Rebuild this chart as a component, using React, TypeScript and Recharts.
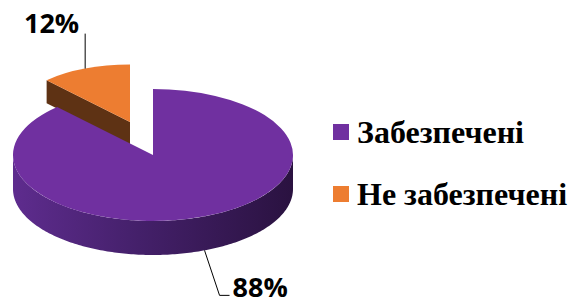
import { Legend, Pie, PieChart } from 'recharts';

const categories = ['Забезпечені', 'Не забезпечені'];
const shares = [88, 12];
const colors = ['#7030a0', '#ed7d31'];

const RAD = Math.PI / 180;
const TILT = 66 / 140;

// per-slice look of the pseudo 3D pie
const sliceStyle: Record<string, any> = {
  'Забезпечені': {
    dx: 0, dy: 0, scale: 1, depth: 34,
    wall: '#3c1a5c', rim: ['#5e2c8e', '#44206a', '#2a1240'],
    label: { line: [[15, 45], [25, 45]], text: [28, 47], anchor: 'start' },
  },
  'Не забезпечені': {
    dx: -23, dy: -33, scale: 0.87, depth: 23,
    wall: '#5e3214', rim: ['#8a4a1e', '#6a3616', '#4a240c'],
    label: { line: [[0, -35]], text: [-6, -36], anchor: 'end' },
  },
};

// draw order: small slice first so the big one sits on top of it
const data = categories
  .map((name, i) => ({ name, value: shares[i], fill: colors[i] }))
  .reverse();

const total = shares.reduce((s, v) => s + v, 0);
const startAngle = 90 + (360 * shares[1]) / total;

function Slice3D(props: any) {
  const { cx, cy, outerRadius, startAngle: a0, endAngle: a1, fill, index } = props;
  const name = props.name ?? props.payload?.name;
  const st = sliceStyle[name];
  const rx = outerRadius * st.scale;
  const ry = rx * TILT;
  const ox = cx + st.dx;
  const oy = cy + st.dy;
  const pt = (a: number, down = 0) => [ox + rx * Math.cos(a * RAD), oy - ry * Math.sin(a * RAD) + down];
  const hi = Math.max(a0, a1);
  const lo = Math.min(a0, a1);

  const s = pt(a0);
  const e = pt(a1);
  const large = hi - lo > 180 ? 1 : 0;
  const top = `M${ox},${oy} L${s[0]},${s[1]} A${rx},${ry} 0 ${large} 1 ${e[0]},${e[1]} Z`;

  // outer rim where it faces the viewer
  const rims: string[] = [];
  for (let k = -2; k <= 1; k++) {
    const r0 = Math.max(lo, -180 + 360 * k);
    const r1 = Math.min(hi, 360 * k);
    if (r1 - r0 <= 0.01) continue;
    const upper: number[][] = [];
    const lower: number[][] = [];
    const steps = Math.max(2, Math.ceil(r1 - r0));
    for (let j = 0; j <= steps; j++) {
      const a = r0 + ((r1 - r0) * j) / steps;
      upper.push(pt(a));
      lower.push(pt(a, st.depth));
    }
    const pts = [...upper, ...lower.reverse()];
    rims.push('M' + pts.map((p) => `${p[0]},${p[1]}`).join(' L') + ' Z');
  }

  // radial cut faces
  const walls: string[] = [];
  const wallAt = (a: number) => {
    const p = pt(a);
    walls.push(`M${ox},${oy} L${p[0]},${p[1]} L${p[0]},${p[1] + st.depth} L${ox},${oy + st.depth} Z`);
  };
  if (Math.cos(a0 * RAD) < -0.01) wallAt(a0);
  if (Math.cos(a1 * RAD) > 0.01) wallAt(a1);

  const gid = `rim-${index}`;
  return (
    <g>
      <defs>
        <linearGradient id={gid} gradientUnits="userSpaceOnUse" x1={ox - rx} y1={0} x2={ox + rx} y2={0}>
          <stop offset="0%" stopColor={st.rim[0]} />
          <stop offset="45%" stopColor={st.rim[1]} />
          <stop offset="100%" stopColor={st.rim[2]} />
        </linearGradient>
      </defs>
      {walls.map((d, i) => (
        <path key={'w' + i} d={d} fill={st.wall} />
      ))}
      {rims.map((d, i) => (
        <path key={'r' + i} d={d} fill={`url(#${gid})`} />
      ))}
      <path d={top} fill={fill} />
    </g>
  );
}

function PctLabel(props: any) {
  const { cx, cy, midAngle, outerRadius, percent } = props;
  const name = props.name ?? props.payload?.name;
  const st = sliceStyle[name];
  const rx = outerRadius * st.scale;
  const ry = rx * TILT;
  const down = Math.sin(midAngle * RAD) < 0 ? st.depth : 0;
  const x0 = cx + st.dx + rx * Math.cos(midAngle * RAD);
  const y0 = cy + st.dy - ry * Math.sin(midAngle * RAD) + down;
  const pts = [[x0, y0], ...st.label.line.map((p: number[]) => [x0 + p[0], y0 + p[1]])];
  return (
    <g>
      <polyline points={pts.map((p) => p.join(',')).join(' ')} fill="none" stroke="#000" strokeWidth={1} />
      <text
        x={x0 + st.label.text[0]}
        y={y0 + st.label.text[1]}
        textAnchor={st.label.anchor}
        fontFamily="'Open Sans', sans-serif"
        fontWeight={700}
        fontSize={27}
        fill="#000"
      >
        {`${Math.round(percent * 100)}%`}
      </text>
    </g>
  );
}

function LegendBox(props: any) {
  const items = [...(props.payload ?? [])].sort(
    (a: any, b: any) => categories.indexOf(a.value) - categories.indexOf(b.value),
  );
  return (
    <div>
      {items.map((it: any) => (
        <div key={it.value} style={{ display: 'flex', alignItems: 'center', height: 40, marginBottom: 22 }}>
          <span style={{ display: 'inline-block', width: 16, height: 16, background: it.color ?? it.payload?.fill, marginRight: 8 }} />
          <span
            style={{
              fontFamily: "'Liberation Serif', 'Times New Roman', serif",
              fontWeight: 700,
              fontSize: 32,
              lineHeight: '40px',
              color: '#000',
              whiteSpace: 'nowrap',
            }}
          >
            {it.value}
          </span>
        </div>
      ))}
    </div>
  );
}

export default function App() {
  return (
    <div style={{ position: 'absolute', left: 0, top: 0, width: 577, height: 304, background: '#fff' }}>
      <PieChart width={577} height={304} margin={{ top: 0, right: 0, bottom: 0, left: 0 }}>
        <Pie
          data={data}
          dataKey="value"
          nameKey="name"
          cx={153}
          cy={155}
          outerRadius={140}
          startAngle={startAngle}
          endAngle={startAngle - 360}
          shape={Slice3D}
          label={PctLabel}
          labelLine={false}
          stroke="none"
          isAnimationActive={false}
        />
        <Legend
          layout="vertical"
          align="right"
          verticalAlign="top"
          content={LegendBox}
          wrapperStyle={{ position: 'absolute', left: 333, top: 112, width: 244 }}
        />
      </PieChart>
    </div>
  );
}
